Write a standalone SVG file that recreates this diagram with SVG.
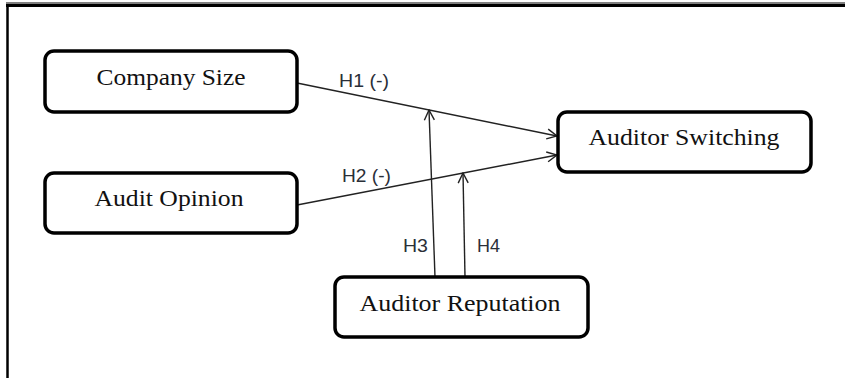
<svg xmlns="http://www.w3.org/2000/svg" width="845" height="378" viewBox="0 0 845 378">
  <style>
    .box { fill: #ffffff; stroke: #000000; stroke-width: 3.5; }
    .name { font-family: "Liberation Serif", "Times New Roman", serif; font-size: 24px; fill: #111111; text-anchor: middle; }
    .hyp { font-family: "Liberation Sans", Arial, sans-serif; font-size: 18px; fill: #2a2f38; }
    .link { fill: none; stroke: #222222; stroke-width: 1.4; marker-end: url(#chevron); }
    .frame { stroke: #000000; fill: none; }
  </style>
  <defs>
    <marker id="chevron" viewBox="0 0 12 12" refX="11" refY="6" markerWidth="12" markerHeight="12" markerUnits="userSpaceOnUse" orient="auto">
      <path d="M1,1 L11,6 L1,11" fill="none" stroke="#222222" stroke-width="1.4"/>
    </marker>
  </defs>

  <rect width="845" height="378" fill="#ffffff"/>

  <!-- page frame: top and left rules -->
  <g id="frame">
    <line class="frame" x1="6" y1="3" x2="845" y2="3" stroke="#e4e4e4" stroke-width="1"/>
    <line class="frame" x1="6" y1="5.5" x2="845" y2="5.5" stroke-width="3"/>
    <line class="frame" x1="7.5" y1="4" x2="7.5" y2="378" stroke-width="2.5"/>
  </g>

  <!-- connectors -->
  <g id="connectors">
    <line class="link" x1="297" y1="83" x2="557" y2="136"/>
    <line class="link" x1="297" y1="205" x2="557" y2="155"/>
    <line class="link" x1="435" y1="277" x2="429" y2="110"/>
    <line class="link" x1="465" y1="277" x2="463" y2="173"/>
    <text class="hyp" x="339" y="87" textLength="50" lengthAdjust="spacingAndGlyphs">H1 (-)</text>
    <text class="hyp" x="342" y="182" textLength="49" lengthAdjust="spacingAndGlyphs">H2 (-)</text>
    <text class="hyp" x="403" y="252" textLength="25" lengthAdjust="spacingAndGlyphs">H3</text>
    <text class="hyp" x="477" y="252" textLength="23" lengthAdjust="spacingAndGlyphs">H4</text>
  </g>

  <g id="company-size">
    <rect class="box" x="45" y="51" width="252" height="61" rx="9"/>
    <text class="name" x="171" y="85" textLength="149" lengthAdjust="spacingAndGlyphs">Company Size</text>
  </g>

  <g id="audit-opinion">
    <rect class="box" x="45" y="173" width="252" height="60" rx="9"/>
    <text class="name" x="169" y="206" textLength="149" lengthAdjust="spacingAndGlyphs">Audit Opinion</text>
  </g>

  <g id="auditor-switching">
    <rect class="box" x="558" y="112" width="253" height="60" rx="9"/>
    <text class="name" x="684" y="145" textLength="191" lengthAdjust="spacingAndGlyphs">Auditor Switching</text>
  </g>

  <g id="auditor-reputation">
    <rect class="box" x="335" y="277" width="253" height="60" rx="9"/>
    <text class="name" x="460" y="311" textLength="201" lengthAdjust="spacingAndGlyphs">Auditor Reputation</text>
  </g>
</svg>
